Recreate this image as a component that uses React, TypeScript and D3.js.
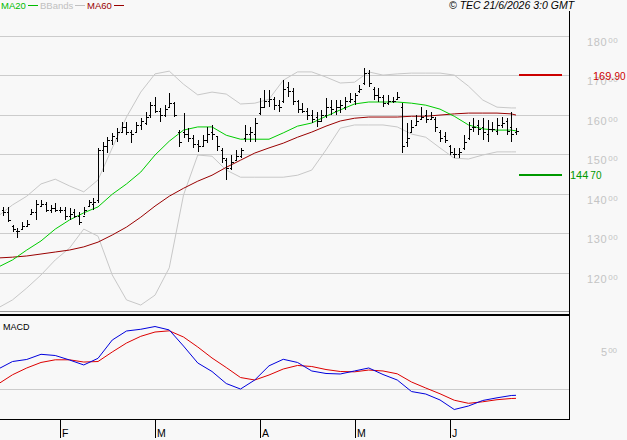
import React, { useEffect, useRef } from 'react';
import * as d3 from 'd3';

// daily OHLC, mid January -> 19 June
const highs = [
  136.7, 136.7, 132.1, 131.4, 132.9, 133.4, 136.2, 138.4, 138.4, 137.9, 137.2, 137.7,
  136.7, 136.7, 136.4, 136.2, 135.4, 136.7, 138.4, 138.9, 151.6, 153.1, 154.3, 155.4,
  156.6, 158.1, 158.1, 156.1, 158.1, 159.1, 160.7, 163.2, 164.4, 161.7, 162.4, 165.5,
  163.2, 156.1, 160.4, 156.6, 154.8, 153.6, 154.8, 156.9, 157.4, 154.3, 151.6, 149.0,
  149.8, 151.1, 151.6, 157.4, 156.9, 159.1, 164.2, 166.2, 166.2, 164.4, 163.7, 168.7,
  168.2, 166.7, 163.7, 162.9, 161.7, 161.2, 160.7, 161.2, 164.2, 163.7, 163.7, 163.7,
  164.4, 165.5, 165.5, 167.5, 171.8, 171.3, 167.0, 166.7, 165.0, 165.0, 164.4, 165.7,
  162.9, 157.9, 158.6, 159.9, 161.9, 161.2, 160.7, 159.4, 156.1, 155.6, 152.3, 151.6,
  151.6, 154.8, 158.1, 159.1, 158.6, 159.1, 158.6, 158.1, 159.1, 159.4, 159.1, 160.7,
  156.6,
];
const lows = [
  134.4, 132.9, 130.4, 128.8, 130.9, 131.6, 134.6, 133.4, 136.7, 135.4, 135.2, 135.4,
  135.2, 133.4, 133.4, 133.9, 132.1, 134.6, 136.7, 135.9, 137.7, 145.5, 150.3, 152.3,
  153.1, 155.4, 154.8, 152.8, 155.6, 156.1, 157.4, 159.1, 160.4, 158.1, 159.4, 161.9,
  159.4, 151.8, 154.1, 153.1, 151.6, 150.6, 151.8, 152.8, 153.6, 150.8, 147.8, 143.5,
  146.0, 148.5, 149.0, 153.1, 153.1, 153.1, 159.9, 161.9, 161.9, 161.2, 160.7, 162.9,
  164.4, 162.4, 160.4, 160.4, 158.6, 157.9, 156.9, 158.1, 159.1, 159.9, 159.9, 160.4,
  161.2, 162.9, 162.4, 165.5, 167.5, 167.0, 163.7, 163.2, 161.9, 162.4, 162.9, 163.7,
  150.3, 151.8, 155.4, 157.4, 158.6, 157.9, 158.6, 155.6, 153.1, 152.8, 149.8, 149.0,
  149.0, 151.1, 153.6, 155.6, 154.8, 153.6, 153.1, 155.6, 154.8, 156.6, 154.8, 153.1,
  154.8,
];
const opens = [
  136.0, 135.5, 132.0, 130.5, 131.0, 132.0, 135.0, 135.5, 137.0, 137.5, 136.0, 136.5,
  136.0, 136.0, 134.5, 135.5, 134.5, 134.5, 137.0, 137.5, 138.5, 151.0, 152.0, 153.5,
  154.0, 155.5, 157.0, 155.5, 155.5, 157.5, 158.0, 160.0, 162.5, 161.0, 160.0, 162.0,
  163.0, 155.5, 155.5, 155.0, 154.0, 152.5, 152.0, 153.5, 155.5, 154.5, 151.0, 148.5,
  146.5, 148.5, 149.5, 154.0, 155.0, 155.0, 160.5, 162.0, 163.5, 164.0, 162.5, 163.5,
  167.0, 166.0, 163.5, 161.5, 161.0, 160.0, 159.5, 158.5, 160.0, 162.0, 161.0, 162.0,
  162.0, 163.5, 163.5, 166.0, 168.0, 170.5, 166.5, 165.0, 164.5, 163.0, 163.5, 164.0,
  162.0, 153.0, 155.5, 157.5, 159.0, 160.0, 159.0, 159.0, 155.5, 154.5, 152.0, 150.0,
  150.0, 151.5, 154.0, 157.0, 157.5, 157.0, 155.0, 156.5, 156.0, 157.5, 158.5, 157.0,
  155.5,
];
const closes = [
  135.5, 133.5, 131.0, 130.5, 132.0, 132.5, 135.5, 137.5, 137.5, 136.0, 136.5, 136.0,
  136.0, 134.5, 135.0, 134.5, 133.0, 136.0, 138.0, 138.0, 151.0, 152.0, 153.5, 154.5,
  155.5, 157.0, 155.5, 155.0, 157.5, 158.5, 159.5, 162.5, 161.0, 160.0, 161.5, 163.0,
  160.0, 153.0, 155.0, 154.0, 152.5, 152.0, 153.5, 155.0, 155.0, 152.0, 149.0, 146.5,
  148.0, 149.5, 151.0, 155.0, 155.5, 158.0, 162.0, 163.5, 164.0, 162.5, 162.0, 166.5,
  166.0, 163.5, 161.5, 161.0, 160.0, 159.0, 158.5, 160.0, 162.0, 161.5, 162.0, 162.5,
  163.5, 164.0, 165.0, 166.5, 170.5, 168.0, 165.0, 164.5, 163.0, 163.5, 163.5, 164.5,
  152.0, 154.0, 157.0, 158.5, 159.5, 159.0, 159.5, 157.0, 154.0, 153.5, 150.5, 150.0,
  150.5, 153.0, 156.5, 157.0, 156.5, 155.5, 156.5, 156.5, 157.5, 158.0, 156.0, 155.0,
  156.0,
];

// indicator readings, every third bar
const lineIdx = [
  -1, 2, 5, 8, 11, 14, 17, 20, 23, 26, 29, 32, 35, 38, 41, 44, 47, 50, 53,
  56, 59, 62, 65, 68, 71, 74, 77, 80, 83, 86, 89, 92, 95, 98, 101, 104, 107, 108,
];
const ma20 = [
  121.5, 123.3, 125.8, 128.1, 131.1, 133.4, 135.2, 136.7, 139.9, 142.5, 145.5, 149.8, 153.3,
  156.1, 156.9, 156.9, 154.8, 153.8, 153.8, 153.8, 155.4, 157.1, 157.9, 159.6, 161.2, 162.7,
  163.2, 163.2, 163.2, 162.9, 162.4, 161.4, 159.6, 157.4, 156.4, 156.1, 156.1, 155.9,
];
const ma60 = [
  123.8, 124.0, 124.3, 124.8, 125.3, 125.8, 126.6, 127.8, 129.6, 131.6, 134.1, 136.9, 139.4,
  141.4, 143.2, 144.7, 146.7, 148.5, 150.3, 151.6, 152.8, 154.3, 155.6, 157.1, 158.4, 159.1,
  159.4, 159.4, 159.4, 159.6, 159.6, 159.9, 160.2, 160.4, 160.4, 160.4, 160.2, 159.9,
];
const bbUpper = [
  134.4, 137.2, 139.4, 142.5, 143.7, 142.0, 140.5, 143.5, 151.6, 159.4, 165.7, 170.3, 171.0,
  167.7, 165.0, 165.7, 165.2, 162.7, 162.9, 163.9, 168.7, 170.8, 170.8, 169.5, 168.0, 168.2,
  170.8, 170.0, 170.3, 170.5, 170.5, 170.5, 170.0, 167.2, 163.7, 161.9, 161.7, 161.7,
];
const bbLower = [
  111.2, 113.2, 116.2, 119.5, 123.3, 126.3, 131.1, 129.3, 119.5, 113.2, 111.9, 114.4, 121.3,
  139.7, 149.8, 149.5, 146.0, 144.2, 144.2, 144.2, 144.2, 144.7, 146.0, 151.1, 156.6, 157.4,
  157.4, 157.4, 156.9, 155.1, 154.3, 151.6, 149.0, 148.8, 149.8, 150.6, 150.6, 150.6,
];
const macdLine = [
  2.36, 3.23, 3.47, 4.07, 3.93, 3.41, 2.83, 3.6, 5.73, 6.78, 6.98, 7.3, 6.9,
  5.03, 3.06, 2.07, 0.67, 0.03, 1.08, 2.73, 3.49, 3.12, 2.13, 1.84, 1.78, 2.13,
  2.48, 1.72, 1.08, -0.26, -0.55, -1.24, -2.35, -1.94, -1.3, -0.99, -0.72, -0.7,
];
const macdSignal = [
  0.62, 1.69, 2.48, 3.12, 3.43, 3.43, 3.17, 3.23, 4.34, 5.38, 6.16, 6.66, 6.8,
  6.08, 4.92, 3.64, 2.53, 1.37, 1.08, 1.66, 2.36, 2.77, 2.65, 2.3, 2.07, 2.03,
  2.24, 2.13, 1.8, 0.85, 0.15, -0.52, -1.27, -1.63, -1.45, -1.21, -1.07, -1.05,
];

const priceTicks = [120, 130, 140, 150, 160, 170, 180];
const macdTicks = [5];
const monthStarts = [12, 32, 54, 74, 94];
const monthLabels = ['F', 'M', 'A', 'M', 'J'];
const resistance = 169.9;
const support = 144.7;

const FONT = '"Liberation Sans", Arial, sans-serif';

export default function App() {
  const svgRef = useRef<SVGSVGElement>(null);

  useEffect(() => {
    if (!svgRef.current) return;
    const W = 627;
    const H = 440;
    const right = 569;

    const svg = d3.select(svgRef.current);
    svg.selectAll('*').remove();
    svg.attr('width', W).attr('height', H);

    svg.append('rect').attr('width', W).attr('height', H).attr('fill', '#f8f8f8');

    const x = d3.scaleLinear().domain([0, 108]).range([3, 516]);
    const y = d3.scaleLinear().domain([120, 180]).range([273, 35.5]);
    const ym = d3.scaleLinear().domain([0, 5]).range([389.3, 346.3]);

    const defs = svg.append('defs');
    defs.append('clipPath').attr('id', 'clipP')
      .append('rect').attr('x', 0).attr('y', 12).attr('width', right).attr('height', 299);
    defs.append('clipPath').attr('id', 'clipM')
      .append('rect').attr('x', 0).attr('y', 316).attr('width', right).attr('height', 103);

    // grid
    const grid = svg.append('g').attr('shape-rendering', 'crispEdges');
    priceTicks.forEach((t) => {
      const yy = Math.round(y(t)) + 0.5;
      grid.append('line').attr('x1', 0).attr('x2', right).attr('y1', yy).attr('y2', yy)
        .attr('stroke', '#cccccc');
    });
    grid.append('line').attr('x1', 0).attr('x2', right)
      .attr('y1', Math.round(ym(0)) + 0.5).attr('y2', Math.round(ym(0)) + 0.5)
      .attr('stroke', '#cccccc');

    // right axis labels
    const lab = svg.append('g').attr('font-family', FONT).attr('fill', '#c4c4c4');
    priceTicks.forEach((t) => {
      const tx = lab.append('text').attr('x', 587).attr('y', y(t) + 10).attr('font-size', 11)
        .attr('letter-spacing', 0.6);
      tx.append('tspan').text(String(t));
      tx.append('tspan').attr('font-size', 8).attr('dy', -3).attr('dx', 1).text('00');
    });
    macdTicks.forEach((t) => {
      const tx = lab.append('text').attr('x', 601).attr('y', ym(t) + 10).attr('font-size', 11);
      tx.append('tspan').text(String(t));
      tx.append('tspan').attr('font-size', 8).attr('dy', -3).attr('dx', 1).text('00');
    });

    // price panel
    const pp = svg.append('g').attr('clip-path', 'url(#clipP)');
    const ln = (vals: number[], sc: d3.ScaleLinear<number, number>) =>
      d3.line<number>().x((_, i) => x(lineIdx[i])).y((d) => sc(d))(vals);

    [bbUpper, bbLower].forEach((s) =>
      pp.append('path').attr('d', ln(s, y)).attr('fill', 'none').attr('stroke', '#c8c8c8'));
    pp.append('path').attr('d', ln(ma60, y)).attr('fill', 'none').attr('stroke', '#990000');
    pp.append('path').attr('d', ln(ma20, y)).attr('fill', 'none').attr('stroke', '#00cc00');

    const bars = pp.append('g').attr('stroke', '#000').attr('shape-rendering', 'crispEdges');
    highs.forEach((h, i) => {
      const bx = Math.round(x(i)) + 0.5;
      bars.append('line').attr('x1', bx).attr('x2', bx).attr('y1', y(h)).attr('y2', y(lows[i]));
      const yo = Math.round(y(opens[i])) + 0.5;
      const yc = Math.round(y(closes[i])) + 0.5;
      bars.append('line').attr('x1', bx - 2).attr('x2', bx).attr('y1', yo).attr('y2', yo);
      bars.append('line').attr('x1', bx).attr('x2', bx + 2).attr('y1', yc).attr('y2', yc);
    });

    // target levels
    const lv = svg.append('g').attr('shape-rendering', 'crispEdges');
    lv.append('line').attr('x1', 519).attr('x2', 562).attr('y1', y(resistance)).attr('y2', y(resistance))
      .attr('stroke', '#cc0000').attr('stroke-width', 2);
    lv.append('line').attr('x1', 519).attr('x2', 562).attr('y1', y(support)).attr('y2', y(support))
      .attr('stroke', '#009900').attr('stroke-width', 2);
    const rt = svg.append('text').attr('x', 593).attr('y', y(resistance) + 5).attr('font-family', FONT)
      .attr('font-size', 11).attr('fill', '#cc0000');
    rt.append('tspan').text(resistance.toFixed(2).split('.')[0] + '.');
    rt.append('tspan').attr('font-size', 10).text(resistance.toFixed(2).split('.')[1]);
    const st = svg.append('text').attr('x', 570).attr('y', y(support) + 4).attr('font-family', FONT)
      .attr('font-size', 11).attr('fill', '#009900');
    st.append('tspan').text(support.toFixed(2).split('.')[0]);
    st.append('tspan').attr('font-size', 10).attr('dx', 2).text(support.toFixed(2).split('.')[1]);

    // macd panel
    const mp = svg.append('g').attr('clip-path', 'url(#clipM)');
    mp.append('path').attr('d', ln(macdSignal, ym)).attr('fill', 'none').attr('stroke', '#dd0000');
    mp.append('path').attr('d', ln(macdLine, ym)).attr('fill', 'none').attr('stroke', '#0000dd');
    svg.append('text').attr('x', 3).attr('y', 330).attr('font-family', FONT).attr('font-size', 9)
      .attr('fill', '#000').text('MACD');

    // frame
    const fr = svg.append('g').attr('shape-rendering', 'crispEdges');
    fr.append('line').attr('x1', 0).attr('x2', right).attr('y1', 311.5).attr('y2', 311.5).attr('stroke', '#999');
    fr.append('rect').attr('x', 0).attr('y', 314).attr('width', right).attr('height', 2).attr('fill', '#000');
    fr.append('line').attr('x1', 0).attr('x2', right).attr('y1', 419.5).attr('y2', 419.5).attr('stroke', '#000');
    fr.append('line').attr('x1', right + 0.5).attr('x2', right + 0.5).attr('y1', 11).attr('y2', 420).attr('stroke', '#000');

    // month axis
    monthStarts.forEach((m, i) => {
      const mx = Math.round(x(m)) + 0.5;
      fr.append('line').attr('x1', mx).attr('x2', mx).attr('y1', 420).attr('y2', 438).attr('stroke', '#000');
      svg.append('text').attr('x', mx + 1.5).attr('y', 437).attr('font-family', FONT).attr('font-size', 10.5)
        .attr('fill', '#000').text(monthLabels[i]);
    });

    // legend
    const leg = [
      { label: 'MA20', color: '#00bb00', x: 1 },
      { label: 'BBands', color: '#c0c0c0', x: 40 },
      { label: 'MA60', color: '#990000', x: 87 },
    ];
    leg.forEach((l) => {
      const t = svg.append('text').attr('x', l.x).attr('y', 9).attr('font-family', FONT).attr('font-size', 9.5)
        .attr('fill', l.color).text(l.label);
      const w = (t.node() as SVGTextElement).getComputedTextLength();
      svg.append('line').attr('x1', l.x + w + 2).attr('x2', l.x + w + 12).attr('y1', 5.5).attr('y2', 5.5)
        .attr('stroke', l.color).attr('shape-rendering', 'crispEdges');
    });
    svg.append('text').attr('x', 449).attr('y', 9).attr('font-family', FONT).attr('font-size', 10.5)
      .attr('font-style', 'italic').attr('fill', '#000').text('© TEC 21/6/2026 3:0 GMT');
  }, []);

  return <svg ref={svgRef} style={{ position: 'absolute', left: 0, top: 0, display: 'block' }} />;
}
